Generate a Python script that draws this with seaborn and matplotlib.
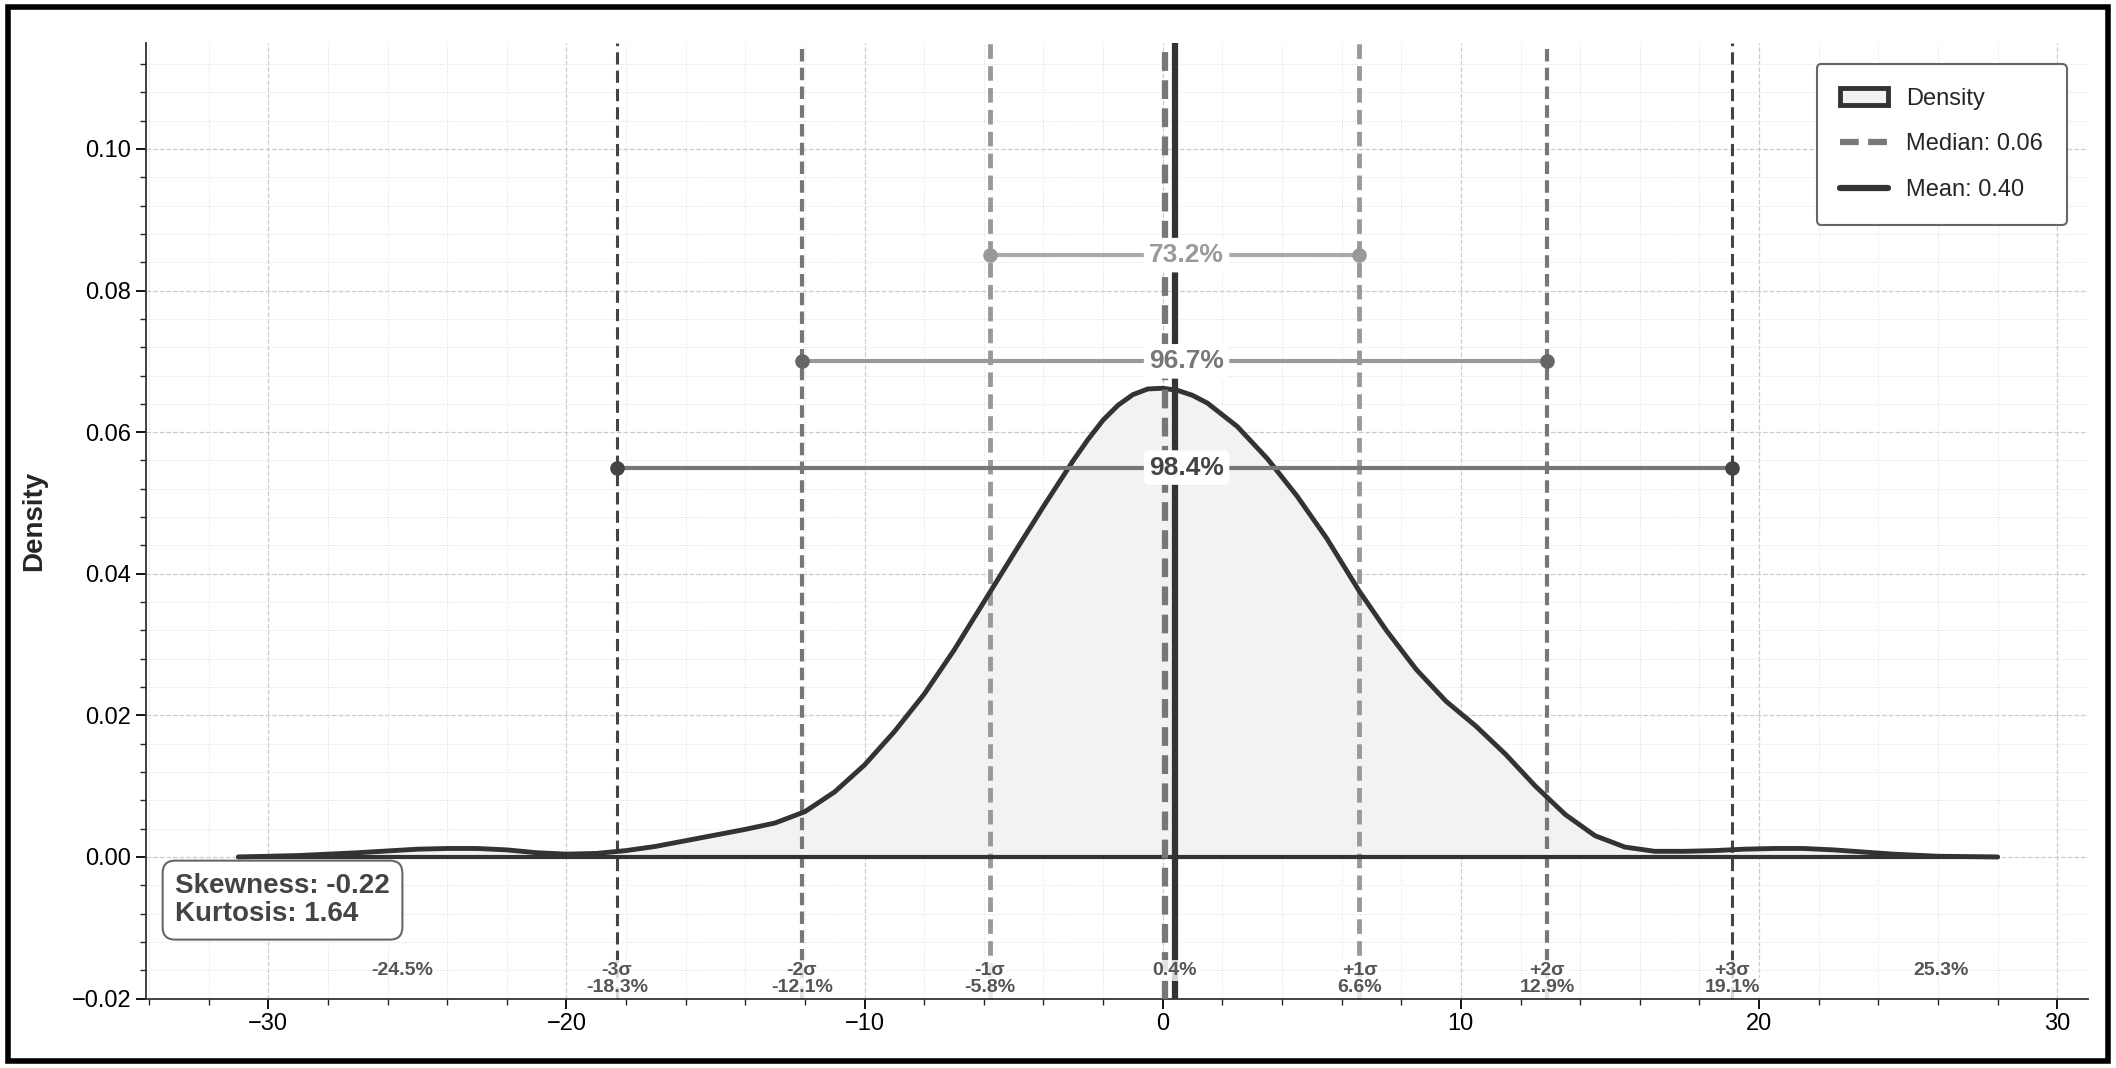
import numpy as np
import pandas as pd
import seaborn as sns
import matplotlib.pyplot as plt
from matplotlib.patches import Rectangle, Patch
from matplotlib.lines import Line2D
from matplotlib.ticker import AutoMinorLocator

# density curve
kde_x = [-31, -29, -27, -25, -24, -23, -22, -21, -20, -19, -18, -17, -16, -15, -14, -13, -12, -11, -10, -9, -8, -7, -6,
         -5, -4, -3, -2.5, -2, -1.5, -1, -0.5, 0, 0.5, 1, 1.5, 2.5, 3.5, 4.5, 5.5, 6.6, 7.5, 8.5, 9.5, 10.5, 11.5, 12.5, 13.5,
         14.5, 15.5, 16.5, 17.5, 18.5, 19.5, 20.5, 21.5, 22.5, 23.5, 24.5, 26, 28]
kde_y = [0.0, 0.0002, 0.0006, 0.0011, 0.0012, 0.0012, 0.0010, 0.0006, 0.0004, 0.0005, 0.0009, 0.0015, 0.0023, 0.0031,
         0.0039, 0.0048, 0.0064, 0.0092, 0.0130, 0.0177, 0.0230, 0.0292, 0.0360, 0.0428, 0.0495, 0.0560, 0.0590,
         0.0617, 0.0638, 0.0653, 0.0661, 0.0662, 0.0659, 0.0652, 0.0641, 0.0608, 0.0563, 0.0510, 0.0450, 0.0375,
         0.0320, 0.0265, 0.0220, 0.0185, 0.0145, 0.0100, 0.0060, 0.0030, 0.0014, 0.0008, 0.0008, 0.0009, 0.0011,
         0.0012, 0.0012, 0.0010, 0.0007, 0.0004, 0.0001, 0.0]

mean_val = 0.40
median_val = 0.06
sigma_pos = [-18.3, -12.1, -5.8, 6.6, 12.9, 19.1]
sigma_names = ["-3σ", "-2σ", "-1σ", "+1σ", "+2σ", "+3σ"]
range_pcts = ["73.2%", "96.7%", "98.4%"]
range_y = [0.085, 0.070, 0.055]
extreme_labels = ["-24.5%", "25.3%"]
extreme_pos = [-25.5, 26.1]
skewness = -0.22
kurtosis = 1.64
yticks = [-0.02, 0.0, 0.02, 0.04, 0.06, 0.08, 0.10]

sns.set_theme(style="whitegrid")
plt.rcParams['font.family'] = ['Liberation Sans', 'DejaVu Sans']

fig = plt.figure(figsize=(21.16, 10.68), dpi=100)
ax = fig.add_axes([0.069, 0.065, 0.918, 0.895])
fig.patches.append(Rectangle((0.004, 0.007), 0.992, 0.986, transform=fig.transFigure,
                             fill=False, edgecolor='black', linewidth=4))

df = pd.DataFrame({"x": kde_x, "y": kde_y})
ax.fill_between(df.x, 0, df.y, color='#f2f2f2', zorder=1)
sns.lineplot(data=df, x="x", y="y", ax=ax, color='#333333', linewidth=3.5, zorder=3)
ax.plot([kde_x[0], kde_x[-1]], [0, 0], color='#333333', linewidth=3, zorder=3)

sig_styles = {3: ('#444444', 2.2), 2: ('#777777', 3), 1: ('#999999', 3.5)}
for i, p in enumerate(sigma_pos):
    k = [3, 2, 1, 1, 2, 3][i]
    col, lw = sig_styles[k]
    ax.axvline(p, color=col, linestyle=(0, (4, 2)) if k == 3 else (0, (3, 1.5)), linewidth=lw, zorder=2)

ax.axvline(median_val, color='#777777', linestyle=(0, (3, 1.5)), linewidth=4.5, zorder=4)
ax.axvline(mean_val, color='#333333', linewidth=4.5, zorder=4)

range_cols = ['#aaaaaa', '#999999', '#777777']
range_tcols = ['#999999', '#777777', '#444444']
dot_cols = ['#999999', '#666666', '#444444']
for j in range(3):
    lo, hi = sigma_pos[2 - j], sigma_pos[3 + j]
    y = range_y[j]
    ax.plot([lo, hi], [y, y], color=range_cols[j], linewidth=3, zorder=5)
    ax.scatter([lo, hi], [y, y], color=dot_cols[j], s=90, zorder=6)
    ax.text((lo + hi) / 2 + 0.4, y, range_pcts[j], ha='center', va='center', fontsize=19, fontweight='bold',
            color=range_tcols[j], zorder=7,
            bbox=dict(boxstyle='round,pad=0.2', fc='white', ec='none'))

lbl_bbox = dict(boxstyle='square,pad=0.1', fc='white', ec='none', alpha=0.8)
for p, n in zip(sigma_pos, sigma_names):
    ax.text(p, -0.016, n, ha='center', va='center', fontsize=14, fontweight='bold', color='#555555', bbox=lbl_bbox)
    ax.text(p, -0.0185, f"{p}%", ha='center', va='center', fontsize=14, fontweight='bold', color='#555555',
            bbox=lbl_bbox)
ax.text(mean_val, -0.016, f"{mean_val:.1f}%", ha='center', va='center', fontsize=14, fontweight='bold',
        color='#555555', bbox=lbl_bbox, zorder=5)
for p, n in zip(extreme_pos, extreme_labels):
    ax.text(p, -0.016, n, ha='center', va='center', fontsize=14, fontweight='bold', color='#555555')

ax.text(0.015, 0.103, f"Skewness: {skewness:.2f}\nKurtosis: {kurtosis:.2f}", transform=ax.transAxes,
        fontsize=20, fontweight='bold', color='#444444', va='center', ha='left', linespacing=1.1,
        bbox=dict(boxstyle='round,pad=0.45', fc='white', ec='#666666', lw=1.5))

ax.set_xlim(-34.1, 31.05)
ax.set_ylim(-0.0199, 0.115)
ax.set_xticks([-30, -20, -10, 0, 10, 20, 30])
ax.set_yticks(yticks)
ax.set_yticklabels([f"{v:.2f}".replace('-', '\u2212') for v in yticks])
ax.xaxis.set_minor_locator(AutoMinorLocator(5))
ax.yaxis.set_minor_locator(AutoMinorLocator(5))
ax.tick_params(axis='both', which='major', labelsize=17, length=7, width=1.3, direction='out', colors='black',
               bottom=True, left=True)
ax.tick_params(axis='both', which='minor', length=4, width=1, bottom=True, left=True)
ax.grid(which='major', linestyle='--', color='#cccccc', linewidth=0.9)
ax.grid(which='minor', linestyle=':', color='#dddddd', linewidth=0.7)
ax.set_facecolor('white')
for s in ['top', 'right']:
    ax.spines[s].set_visible(False)
for s in ['left', 'bottom']:
    ax.spines[s].set_color('#333333')
    ax.spines[s].set_linewidth(1.3)
ax.set_xlabel("")
ax.set_ylabel("Density", fontsize=20, fontweight='bold', labelpad=18)

handles = [Patch(facecolor='#f2f2f2', edgecolor='#333333', linewidth=3.5, label='Density'),
           Line2D([0], [0], color='#777777', linestyle=(0, (3, 1.5)), linewidth=4.5, label=f'Median: {median_val:.2f}'),
           Line2D([0], [0], color='#333333', linewidth=4.5, label=f'Mean: {mean_val:.2f}')]
leg = ax.legend(handles=handles, loc='upper right', bbox_to_anchor=(0.995, 0.99), fontsize=17,
                frameon=True, fancybox=True, edgecolor='#666666', framealpha=1, borderpad=1.0, labelspacing=1.0)
leg.get_frame().set_linewidth(1.5)

fig.savefig("out.png", dpi=100, facecolor='white')
